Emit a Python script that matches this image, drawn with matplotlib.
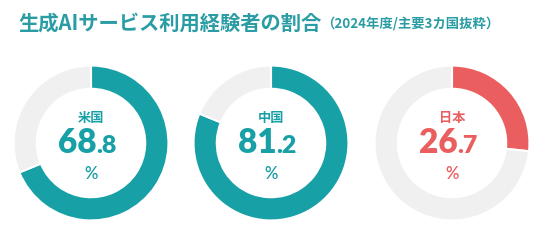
import matplotlib
matplotlib.use("Agg")
import matplotlib.pyplot as plt

countries = ["米国", "中国", "日本"]
values = [68.8, 81.2, 26.7]
colors = ["#18a0a7", "#18a0a7", "#ea5e5f"]
title = "生成AIサービス利用経験者の割合"
subtitle = "（2024年度/主要3カ国抜粋）"

W, H = 543, 245
fig = plt.figure(figsize=(W / 100, H / 100), dpi=100)
fig.patch.set_facecolor("white")

cjk = ["Noto Sans CJK JP", "DejaVu Sans"]
fig.text(18 / W, 1 - 23 / H, title, family=cjk, fontweight="bold",
         fontsize=14.6, color="#2a9ca4", ha="left", va="center")
fig.text(321 / W, 1 - 24 / H, subtitle, family=cjk, fontweight="bold",
         fontsize=9.6, color="#2a9ca4", ha="left", va="center")

centers = [91, 271, 452]
cy = 143
r = 79
for cx, name, val, col in zip(centers, countries, values, colors):
    ax = fig.add_axes([(cx - r) / W, (H - cy - r) / H, 2 * r / W, 2 * r / H])
    ax.pie([val, 100 - val], colors=[col, "#f0f0f0"], startangle=90,
           counterclock=False, radius=1.0,
           wedgeprops=dict(width=0.3, edgecolor="white", linewidth=1.5))
    ax.set_xlim(-1.02, 1.02)
    ax.set_ylim(-1.02, 1.02)
    ax.set_aspect("equal")
    ax.axis("off")
    ax.text(0, 0.32, name, family=cjk, fontweight="bold", fontsize=9.5,
            color=col, ha="center", va="center")
    ip, dp = f"{val:.1f}".split(".")
    split = 0.07
    ax.text(split, -0.125, ip, family="Lato", fontweight="heavy", fontsize=24,
            color=col, ha="right", va="baseline")
    ax.text(split, -0.125, "." + dp, family="Lato", fontweight="heavy",
            fontsize=18, color=col, ha="left", va="baseline")
    ax.text(0, -0.40, "%", family="Lato", fontweight="semibold", fontsize=12,
            color=col, ha="center", va="center")

fig.savefig("out.png", dpi=100, facecolor="white")
